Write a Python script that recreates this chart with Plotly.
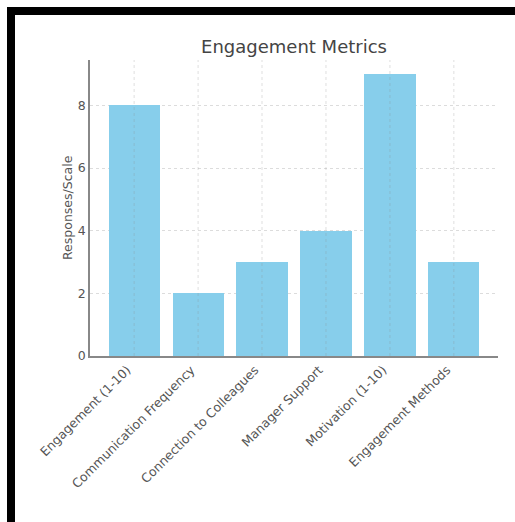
import plotly.graph_objects as go

categories = ["Engagement (1-10)", "Communication Frequency", "Connection to Colleagues",
              "Manager Support", "Motivation (1-10)", "Engagement Methods"]
values = [8, 2, 3, 4, 9, 3]
y_ticks = [0, 2, 4, 6, 8]

W, H = 515, 522
L, R, T, B = 90, 17, 60, 166
pw, ph = W - L - R, H - T - B

def px_x(p):
    return (p - L) / pw

def px_y(p):
    return (H - B - p) / ph

fig = go.Figure()
fig.add_trace(go.Bar(x=list(range(len(categories))), y=values, width=0.8,
                     marker=dict(color="#87CEEB", line=dict(width=0))))

for i in range(len(categories)):
    fig.add_vline(x=i, line=dict(color="rgba(140,140,140,0.28)", width=1, dash="dot"),
                  layer="above")

# black frame
fig.add_shape(type="rect", xref="paper", yref="paper",
              x0=px_x(11), x1=px_x(530), y0=px_y(11), y1=px_y(526),
              line=dict(color="black", width=8), layer="above")

# y-axis title
fig.add_annotation(text="Responses/Scale", xref="paper", yref="paper",
                   x=px_x(67), y=0.5, xanchor="center", yanchor="middle",
                   textangle=-90, showarrow=False,
                   font=dict(size=12.5, color="#555555"))

fig.update_layout(
    width=W, height=H,
    margin=dict(l=L, r=R, t=T, b=B, autoexpand=False),
    paper_bgcolor="white", plot_bgcolor="white",
    font=dict(family="DejaVu Sans", color="#555555", size=12.5),
    showlegend=False,
    title=dict(text="Engagement Metrics", x=0.5, xref="paper", xanchor="center",
               y=1 - 47 / H, yref="container", yanchor="middle",
               font=dict(size=18, color="#444444")),
    bargap=0,
)
fig.update_xaxes(range=[-0.69, 5.69], tickmode="array",
                 tickvals=list(range(len(categories))), ticktext=categories,
                 tickangle=-45, showgrid=False, showline=True, linecolor="#888888",
                 linewidth=1.5, ticks="", zeroline=False, ticklabelshift=-7,
                 tickfont=dict(size=12.5, color="#555555"))
fig.update_yaxes(range=[0, 9.45], tickmode="array", tickvals=y_ticks,
                 showgrid=True, gridcolor="#dcdcdc", griddash="dot", gridwidth=1,
                 showline=True, linecolor="#888888", linewidth=1.5, zeroline=False,
                 ticks="", ticklen=3,
                 tickfont=dict(size=12.5, color="#555555"))

fig.write_html("out.html")
